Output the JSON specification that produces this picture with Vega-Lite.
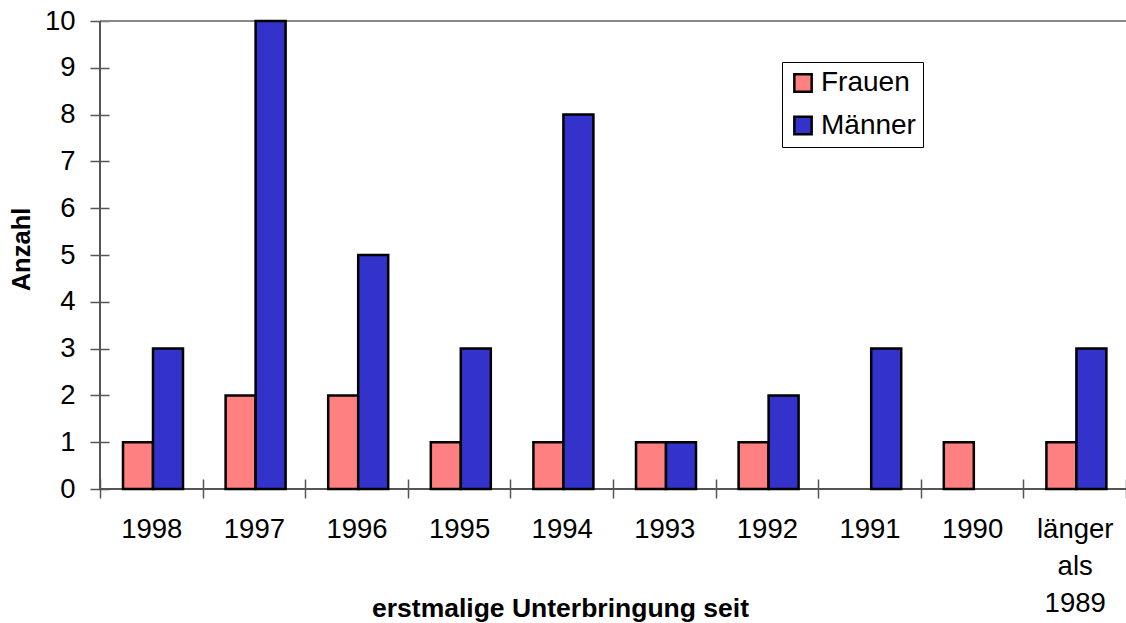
{
  "$schema": "https://vega.github.io/schema/vega-lite/v6.json",
  "width": 1026,
  "height": 468,
  "autosize": {"type": "none"},
  "padding": {"left": 100, "top": 21, "right": 0, "bottom": 134},
  "background": "white",
  "config": {
    "view": {"stroke": null},
    "font": "Liberation Sans",
    "axis": {"labelFont": "Liberation Sans", "titleFont": "Liberation Sans", "labelColor": "black", "titleColor": "black", "tickColor": "#555555", "tickWidth": 1.5, "grid": false}
  },
  "data": {
    "values": [
      {"cat": "1998", "sex": "Frauen", "n": 1},
      {"cat": "1998", "sex": "Männer", "n": 3},
      {"cat": "1997", "sex": "Frauen", "n": 2},
      {"cat": "1997", "sex": "Männer", "n": 10},
      {"cat": "1996", "sex": "Frauen", "n": 2},
      {"cat": "1996", "sex": "Männer", "n": 5},
      {"cat": "1995", "sex": "Frauen", "n": 1},
      {"cat": "1995", "sex": "Männer", "n": 3},
      {"cat": "1994", "sex": "Frauen", "n": 1},
      {"cat": "1994", "sex": "Männer", "n": 8},
      {"cat": "1993", "sex": "Frauen", "n": 1},
      {"cat": "1993", "sex": "Männer", "n": 1},
      {"cat": "1992", "sex": "Frauen", "n": 1},
      {"cat": "1992", "sex": "Männer", "n": 2},
      {"cat": "1991", "sex": "Männer", "n": 3},
      {"cat": "1990", "sex": "Frauen", "n": 1},
      {"cat": "länger als 1989", "sex": "Frauen", "n": 1},
      {"cat": "länger als 1989", "sex": "Männer", "n": 3}
    ]
  },
  "layer": [
    {
      "mark": {"type": "rule", "stroke": "#888888", "strokeWidth": 2},
      "encoding": {"y": {"datum": 10, "type": "quantitative"}}
    },
    {
      "mark": {"type": "rule", "stroke": "#555555", "strokeWidth": 2},
      "encoding": {"y": {"datum": 0, "type": "quantitative"}}
    },
    {
      "mark": {"type": "rule", "stroke": "#555555", "strokeWidth": 2},
      "encoding": {"x": {"datum": "1998", "type": "nominal", "bandPosition": 0}}
    },
    {
      "mark": {"type": "bar", "stroke": "black", "strokeWidth": 2.5},
      "encoding": {
        "x": {
          "field": "cat",
          "type": "nominal",
          "sort": null,
          "scale": {"domain": ["1998", "1997", "1996", "1995", "1994", "1993", "1992", "1991", "1990", "länger als 1989"], "paddingInner": 0, "paddingOuter": 0},
          "axis": {
            "title": "erstmalige Unterbringung seit",
            "titleFontSize": 26.5,
            "titleFontWeight": "bold",
            "titleX": 460,
            "titleY": 137,
            "titleBaseline": "alphabetic",
            "labelAngle": 0,
            "labelAlign": "center",
            "labelFontSize": 27.5,
            "labelLineHeight": 37,
            "labelPadding": 31,
            "labelExpr": "datum.label == 'länger als 1989' ? ['länger', 'als', '1989'] : datum.label",
            "tickBand": "extent",
            "tickSize": 19,
            "offset": -10,
            "domain": false
          }
        },
        "xOffset": {
          "field": "sex",
          "type": "nominal",
          "scale": {"domain": ["Frauen", "Männer"], "paddingOuter": 0.71, "paddingInner": 0, "align": 0.54}
        },
        "y": {
          "field": "n",
          "type": "quantitative",
          "scale": {"domain": [0, 10], "nice": false},
          "axis": {
            "title": "Anzahl",
            "titleFontSize": 25.5,
            "titleFontWeight": "bold",
            "titlePadding": 10,
            "titleY": 228,
            "values": [0, 1, 2, 3, 4, 5, 6, 7, 8, 9, 10],
            "labelFontSize": 27.5,
            "labelPadding": 15,
            "tickSize": 19,
            "offset": -9,
            "domain": false
          }
        },
        "fill": {
          "field": "sex",
          "type": "nominal",
          "scale": {"domain": ["Frauen", "Männer"], "range": ["#FF8080", "#3333CC"]},
          "legend": {
            "title": null,
            "orient": "none",
            "legendX": 682,
            "legendY": 41,
            "strokeColor": "black",
            "padding": 7,
            "symbolType": "square",
            "symbolSize": 300,
            "symbolStrokeColor": "black",
            "symbolStrokeWidth": 2.5,
            "symbolOpacity": 1,
            "labelFontSize": 28,
            "labelColor": "black",
            "labelOffset": 4,
            "rowPadding": 14.5
          }
        }
      }
    }
  ]
}
